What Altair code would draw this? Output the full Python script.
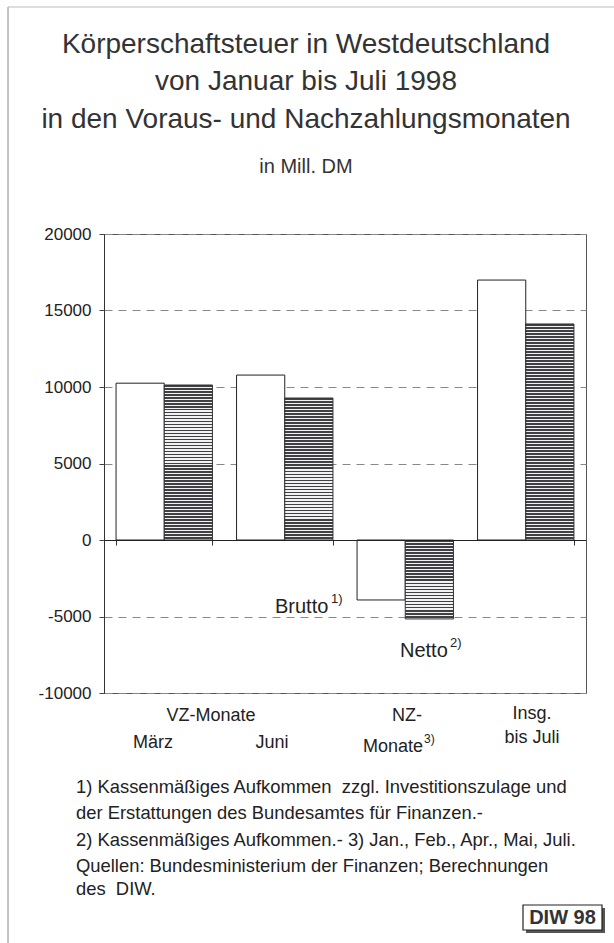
import altair as alt
import pandas as pd

FONT = "Liberation Sans"

# ---- data ----
categories = ["März", "Juni", "NZ-Monate", "Insg. bis Juli"]
series = ["Brutto", "Netto"]
brutto = [10250, 10780, -3920, 16990]
netto = [10130, 9280, -5160, 14120]
y_ticks = [-10000, -5000, 0, 5000, 10000, 15000, 20000]

title_lines = [
    "Körperschaftsteuer in Westdeutschland",
    "von Januar bis Juli 1998",
    "in den Voraus- und Nachzahlungsmonaten",
]
subtitle = "in Mill. DM"
footnotes = [
    "1) Kassenmäßiges Aufkommen \u00a0zzgl. Investitionszulage und",
    "der Erstattungen des Bundesamtes für Finanzen.-",
    "2) Kassenmäßiges Aufkommen.- 3) Jan., Feb., Apr., Mai, Juli.",
    "Quellen: Bundesministerium der Finanzen; Berechnungen",
    "des \u00a0DIW.",
]

W, H = 482, 459
rows = []
for c, b, n in zip(categories, brutto, netto):
    rows.append({"cat": c, "series": "Brutto", "value": b})
    rows.append({"cat": c, "series": "Netto", "value": n})
df = pd.DataFrame(rows)

DARK = "#3f3f44"
LIGHT = "#f2f2f2"


def stripes(v):
    n = max(4, round(abs(v) * H / 30000 / 3))
    stops = []
    for i in range(n):
        a, b, c = i / n, (i + 0.55) / n, (i + 1) / n
        stops += [
            {"offset": round(a, 5), "color": DARK},
            {"offset": round(b, 5), "color": DARK},
            {"offset": round(b, 5), "color": LIGHT},
            {"offset": round(c, 5), "color": LIGHT},
        ]
    return {"gradient": "linear", "x1": 0, "y1": 0, "x2": 0, "y2": 1, "stops": stops}


x_enc = alt.X(
    "cat:N",
    sort=categories,
    scale=alt.Scale(domain=categories, paddingInner=0.2, paddingOuter=0.1),
    axis=alt.Axis(
        orient="bottom", offset=-153, labels=False, tickBand="extent",
        tickSize=5, tickColor="#333", domainColor="#222", domainWidth=1,
        title=None, grid=False, zindex=1,
    ),
)
xo_enc = alt.XOffset(
    "series:N", scale=alt.Scale(domain=series, paddingInner=0, paddingOuter=0)
)
y_enc = alt.Y(
    "value:Q",
    scale=alt.Scale(domain=[-10000, 20000], nice=False, zero=False),
    axis=alt.Axis(
        values=y_ticks, labelExpr="'' + datum.value", labelFont=FONT,
        labelFontSize=17, labelColor="#222", tickSize=5, tickColor="#444",
        domainColor="#333", labelPadding=8, grid=True, gridDash=[8, 6],
        gridColor="#888", gridWidth=1, title=None,
    ),
)

base = alt.Chart(df).encode(x=x_enc, xOffset=xo_enc, y=y_enc)

layers = []
one = pd.DataFrame({"a": [0]})


def rule(x, y, x2=None, y2=None, color="#999", w=1):
    enc = dict(x=alt.value(x), y=alt.value(y))
    if x2 is not None:
        enc["x2"] = alt.value(x2)
    if y2 is not None:
        enc["y2"] = alt.value(y2)
    return alt.Chart(one).mark_rule(color=color, strokeWidth=w).encode(**enc)


# outer frame (left and top)
layers.append(rule(-96, -227, y2=709, color="#888"))
layers.append(rule(-96, -227, x2=510, color="#bbb"))

# bars
layers.append(
    base.transform_filter(alt.datum.series == "Brutto").mark_bar(
        fill="white", stroke="#222", strokeWidth=1
    )
)
for c, v in zip(categories, netto):
    layers.append(
        base.transform_filter(
            (alt.datum.series == "Netto") & (alt.datum.cat == c)
        ).mark_bar(fill=stripes(v), stroke="#333", strokeWidth=1)
    )


def txt(s, x, y, size, align="center", baseline="middle", color="#222", weight="normal"):
    return alt.Chart(one).mark_text(
        font=FONT, fontSize=size, align=align, baseline=baseline,
        color=color, fontWeight=weight,
    ).encode(x=alt.value(x), y=alt.value(y), text=alt.value(s))


# title
for s, yy in zip(title_lines, [-189, -152, -114]):
    layers.append(txt(s, 202, yy, 28, color="#333"))
layers.append(txt(subtitle, 202, -67, 20, color="#333"))

# category labels
layers.append(txt("VZ-Monate", 107, 482, 18))
layers.append(txt("März", 49, 509, 18))
layers.append(txt("Juni", 168, 509, 18))
layers.append(txt("NZ-", 303, 482, 18))
layers.append(txt("Monate", 319, 518, 18, align="right", baseline="alphabetic"))
layers.append(txt("3)", 320, 509, 12, align="left", baseline="alphabetic"))
layers.append(txt("Insg.", 428, 480, 18))
layers.append(txt("bis Juli", 428, 504, 18))

# series labels
layers.append(txt("Brutto", 171, 379, 20, align="left", baseline="alphabetic"))
layers.append(txt("1)", 227, 369, 13, align="left", baseline="alphabetic"))
layers.append(txt("Netto", 296, 423, 20, align="left", baseline="alphabetic"))
layers.append(txt("2)", 346, 413, 13, align="left", baseline="alphabetic"))

# footnotes
for s, yy in zip(footnotes, [553, 579, 606, 632, 655]):
    layers.append(txt(s, -28, yy, 18.4, align="left"))

# DIW box
layers.append(
    alt.Chart(one).mark_rect(fill="#555").encode(
        x=alt.value(422), x2=alt.value(501), y=alt.value(674), y2=alt.value(699)
    )
)
layers.append(
    alt.Chart(one).mark_rect(fill="white", stroke="#222", strokeWidth=1.2).encode(
        x=alt.value(419), x2=alt.value(498), y=alt.value(671), y2=alt.value(696)
    )
)
layers.append(txt("DIW 98", 458.5, 684, 20, weight="bold", color="#333"))

chart = (
    alt.layer(*layers)
    .properties(
        width=W,
        height=H,
        autosize=alt.AutoSizeParams(type="none"),
        padding={"left": 104, "top": 234, "right": 28, "bottom": 250},
        background="white",
    )
    .configure_view(stroke="#555", strokeWidth=1)
)

chart.save("out.html", embed_options={"renderer": "svg", "actions": False})
